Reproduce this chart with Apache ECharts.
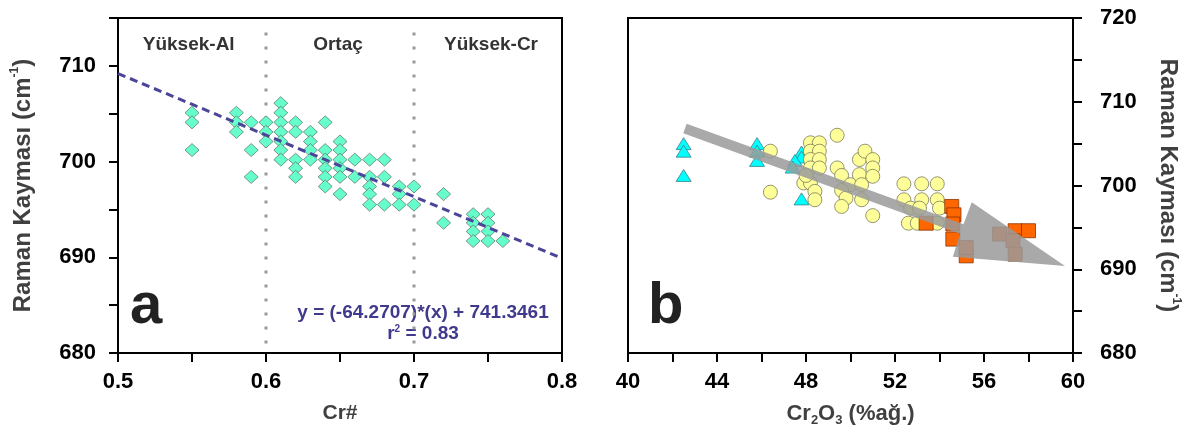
<!DOCTYPE html>
<html><head><meta charset="utf-8">
<script src="https://cdn.jsdelivr.net/npm/echarts@6/dist/echarts.min.js"></script>
<style>html,body{margin:0;padding:0;background:#fff}#c{width:1195px;height:442px}</style>
</head><body><div id="c"></div>
<script>
// ---------- Panel a data ----------
const crNumTicks = [0.5, 0.6, 0.7, 0.8];
const ramanTicksA = [680, 690, 700, 710];
const fieldLabels = ['Yüksek-Al', 'Ortaç', 'Yüksek-Cr'];
const fieldDividers = [0.6, 0.7];
const dividerRange = [681, 713.8];
const crNum = [
  0.55,0.55,0.55, 0.58,0.58,0.58, 0.59,0.59,0.59, 0.60,0.60,0.60,
  0.61,0.61,0.61,0.61,0.61,0.61,0.61, 0.62,0.62,0.62,0.62,0.62,
  0.63,0.63,0.63,0.63, 0.64,0.64,0.64,0.64,0.64,0.64,
  0.65,0.65,0.65,0.65,0.65,0.65, 0.66,0.66, 0.67,0.67,0.67,0.67,0.67,
  0.68,0.68,0.68, 0.69,0.69,0.69, 0.70,0.70, 0.72,0.72,
  0.74,0.74,0.74,0.74, 0.75,0.75,0.75,0.75, 0.76
];
const ramanA = [
  705.1,704.1,701.2, 705.1,704.1,703.1, 704.1,701.2,698.4, 704.1,703.1,702.1,
  706.1,705.1,704.1,703.1,702.1,701.2,700.2, 704.1,703.1,700.2,699.3,698.4,
  703.1,702.1,701.2,700.2, 704.1,701.2,700.2,699.3,698.4,697.4,
  702.1,701.2,700.2,699.3,698.4,696.6, 700.2,698.4, 700.2,698.4,697.4,696.6,695.5,
  700.2,698.4,695.5, 697.4,696.6,695.5, 697.4,695.5, 696.6,693.6,
  694.5,693.6,692.7,691.7, 694.5,693.6,692.7,691.7, 691.7
];
const fitLine = [[0.5, 709.2], [0.8, 689.9]];
const fitEquation = 'y = (-64.2707)*(x) + 741.3461';
const fitR2 = '0.83';

// ---------- Panel b data ----------
const cr2o3Ticks = [40, 44, 48, 52, 56, 60];
const ramanTicksB = [680, 690, 700, 710, 720];
const triangleCr2O3 = [42.5,42.5,42.5, 45.8,45.8,45.8, 47.8,47.8,47.5,47.4,47.8];
const triangleRaman = [705.0,704.1,701.2, 705.0,704.1,703.0, 704.0,703.4,703.0,702.2,698.4];
const circleCr2O3 = [
  46.4,46.4,49.4,
  48.2,48.6,48.2,48.6,48.2,48.6,48.2,48.6,47.9,48.2,48.4,48.4,48.0,
  49.4,49.6,50.0,49.6,49.8,49.6,
  50.4,50.65,51.0,51.0,50.4,51.0,50.5,50.5,51.0,
  52.4,53.2,53.9,52.4,53.2,53.9,52.7,53.1,54.0,52.6,53.0,53.9
];
const circleRaman = [
  704.1,699.2,706.0,
  705.1,705.1,704.1,704.1,703.1,703.1,702.1,702.1,700.3,700.3,699.3,698.3,701.2,
  702.1,701.2,700.1,699.4,698.5,697.5,
  703.1,704.1,703.1,702.1,701.3,701.1,700.1,698.3,696.4,
  700.2,700.2,700.2,698.3,698.3,698.3,697.3,697.3,697.3,695.5,695.5,695.5
];
const squareCr2O3 = [53.4,54.55,54.65,54.6,54.6,55.2,55.2,56.7,57.4,58.0,57.3,57.4];
const squareRaman = [695.5,697.5,696.5,695.4,693.6,691.6,692.6,694.2,694.6,694.6,693.4,691.8];
// trend arrow (data coordinates): shaft start, shaft end, head corner 1, tip, head corner 2
const arrowShaft = [[42.56, 706.8], [55.0, 694.8]];
const arrowHead = [[55.45, 698.0], [59.64, 690.4], [54.6, 691.5]];

const zip = (a, b) => a.map((v, i) => [v, b[i]]);
const FONT = 'Liberation Sans, Arial, sans-serif';
const tickLabel = { fontFamily: FONT, fontWeight: 'bold', fontSize: 22, color: '#000' };
const mkName = (size) => ({
  fontFamily: FONT, fontWeight: 'bold', fontSize: size, color: '#404040', lineHeight: size + 5,
  rich: {
    sup: { fontFamily: FONT, fontWeight: 'bold', fontSize: 12, color: '#404040', verticalAlign: 'top', lineHeight: size + 5 },
    sub: { fontFamily: FONT, fontWeight: 'bold', fontSize: 13, color: '#404040', verticalAlign: 'bottom', lineHeight: size }
  }
});
const axisLine = { show: true, onZero: false, lineStyle: { color: '#000', width: 2 } };
const axisTick = { show: true, inside: false, length: 9, lineStyle: { color: '#000', width: 2 } };

const chart = echarts.init(document.getElementById('c'), null, { renderer: 'canvas' });
const option = {
  animation: false,
  backgroundColor: '#fff',
  grid: [
    { left: 118, right: 1195 - 562, top: 18, bottom: 442 - 353, show: true, borderColor: '#000', borderWidth: 2, backgroundColor: 'transparent' },
    { left: 628, right: 1195 - 1073, top: 18, bottom: 442 - 353, show: true, borderColor: '#000', borderWidth: 2, backgroundColor: 'transparent' }
  ],
  xAxis: [
    {
      gridIndex: 0, type: 'value', min: 0.5, max: 0.8, interval: 0.05,
      axisLine, axisTick, splitLine: { show: false },
      axisLabel: Object.assign({ margin: 18, showMinLabel: true, showMaxLabel: true,
        formatter: v => { const t = crNumTicks.find(c => Math.abs(c - v) < 1e-6); return t === undefined ? '' : t.toFixed(1); } }, tickLabel),
      name: 'Cr#', nameLocation: 'middle', nameGap: 47, nameTextStyle: mkName(21)
    },
    {
      gridIndex: 1, type: 'value', min: 40, max: 60, interval: 2,
      axisLine, axisTick, splitLine: { show: false },
      axisLabel: Object.assign({ margin: 18, showMinLabel: true, showMaxLabel: true,
        formatter: v => cr2o3Ticks.includes(Math.round(v)) ? String(Math.round(v)) : '' }, tickLabel),
      name: 'Cr{sub|2}O{sub|3} (%ağ.)', nameLocation: 'middle', nameGap: 47, nameTextStyle: mkName(22)
    }
  ],
  yAxis: [
    {
      gridIndex: 0, type: 'value', min: 680, max: 715, interval: 5,
      axisLine, axisTick, splitLine: { show: false },
      axisLabel: Object.assign({ margin: 22,
        formatter: v => ramanTicksA.includes(Math.round(v)) ? String(Math.round(v)) : '' }, tickLabel),
      name: 'Raman Kayması (cm{sup|-1})', nameLocation: 'middle', nameRotate: 90, nameGap: 80, nameTextStyle: mkName(24)
    },
    {
      gridIndex: 1, type: 'value', position: 'right', min: 680, max: 720, interval: 5,
      axisLine, axisTick, splitLine: { show: false },
      axisLabel: Object.assign({ margin: 27,
        formatter: v => ramanTicksB.includes(Math.round(v)) ? String(Math.round(v)) : '' }, tickLabel),
      name: 'Raman Kayması (cm{sup|-1})', nameLocation: 'middle', nameRotate: -90, nameGap: 80, nameTextStyle: mkName(24)
    }
  ],
  series: [
    // divider dotted lines
    ...fieldDividers.map(x => ({
      type: 'line', xAxisIndex: 0, yAxisIndex: 0, symbol: 'none', silent: true, z: 1,
      data: [[x, dividerRange[0]], [x, dividerRange[1]]],
      lineStyle: { color: '#999', width: 3, type: [3, 11] }
    })),
    {
      type: 'scatter', xAxisIndex: 0, yAxisIndex: 0, symbol: 'diamond', symbolSize: [14, 13], z: 2,
      data: zip(crNum, ramanA),
      itemStyle: { color: '#66FFCC', borderColor: '#5a6a64', borderWidth: 0.7, opacity: 1 }
    },
    {
      type: 'line', xAxisIndex: 0, yAxisIndex: 0, symbol: 'none', z: 3,
      data: fitLine,
      lineStyle: { color: '#4B4597', width: 3, type: [8, 5] }
    },
    {
      type: 'scatter', xAxisIndex: 1, yAxisIndex: 1, symbol: 'triangle', symbolSize: [15, 12], z: 2,
      data: zip(triangleCr2O3, triangleRaman),
      itemStyle: { color: '#00FFFF', borderColor: '#3a7f88', borderWidth: 0.8, opacity: 1 }
    },
    {
      type: 'scatter', xAxisIndex: 1, yAxisIndex: 1, symbol: 'circle', symbolSize: 14, z: 2,
      data: zip(circleCr2O3, circleRaman),
      itemStyle: { color: '#FFFF99', borderColor: '#7a7a5a', borderWidth: 0.8, opacity: 1 }
    },
    {
      type: 'scatter', xAxisIndex: 1, yAxisIndex: 1, symbol: 'rect', symbolSize: 14, z: 2,
      data: zip(squareCr2O3, squareRaman),
      itemStyle: { color: '#FF6600', borderColor: '#8a3300', borderWidth: 0.8, opacity: 1 }
    },
    {
      type: 'custom', xAxisIndex: 1, yAxisIndex: 1, z: 5, silent: true,
      data: [0],
      renderItem: (params, api) => {
        const s = api.coord(arrowShaft[0]), e = api.coord(arrowShaft[1]);
        const h1 = api.coord(arrowHead[0]), tip = api.coord(arrowHead[1]), h2 = api.coord(arrowHead[2]);
        const dx = e[0] - s[0], dy = e[1] - s[1], L = Math.hypot(dx, dy);
        const w = 5, px = -dy / L * w, py = dx / L * w;
        const pts = [
          [s[0] + px, s[1] + py], [s[0] - px, s[1] - py],
          [e[0] - px, e[1] - py], h1, tip, h2,
          [e[0] + px, e[1] + py]
        ];
        return { type: 'polygon', shape: { points: pts }, style: { fill: '#9a9a9a', opacity: 0.85 } };
      }
    }
  ],
  graphic: [
    { type: 'text', x: 188.7, y: 45, style: { text: fieldLabels[0], font: 'bold 19px ' + FONT, fill: '#333', align: 'center', verticalAlign: 'middle' } },
    { type: 'text', x: 338, y: 45, style: { text: fieldLabels[1], font: 'bold 19px ' + FONT, fill: '#333', align: 'center', verticalAlign: 'middle' } },
    { type: 'text', x: 491, y: 45, style: { text: fieldLabels[2], font: 'bold 19px ' + FONT, fill: '#333', align: 'center', verticalAlign: 'middle' } },
    { type: 'text', x: 130, y: 307, style: { text: 'a', font: 'bold 58px ' + FONT, fill: '#222', align: 'left', verticalAlign: 'middle' } },
    { type: 'text', x: 648, y: 307, style: { text: 'b', font: 'bold 58px ' + FONT, fill: '#222', align: 'left', verticalAlign: 'middle' } },
    { type: 'text', x: 423, y: 313, style: { text: fitEquation, font: 'bold 19px ' + FONT, fill: '#3F3A8C', align: 'center', verticalAlign: 'middle' } },
    { type: 'text', x: 423, y: 334, style: {
      text: 'r{sup|2} = ' + fitR2, font: 'bold 19px ' + FONT, fill: '#3F3A8C', align: 'center', verticalAlign: 'middle',
      rich: { sup: { font: 'bold 10px ' + FONT, fill: '#3F3A8C', verticalAlign: 'top' } } } }
  ]
};
chart.setOption(option);
</script></body></html>
